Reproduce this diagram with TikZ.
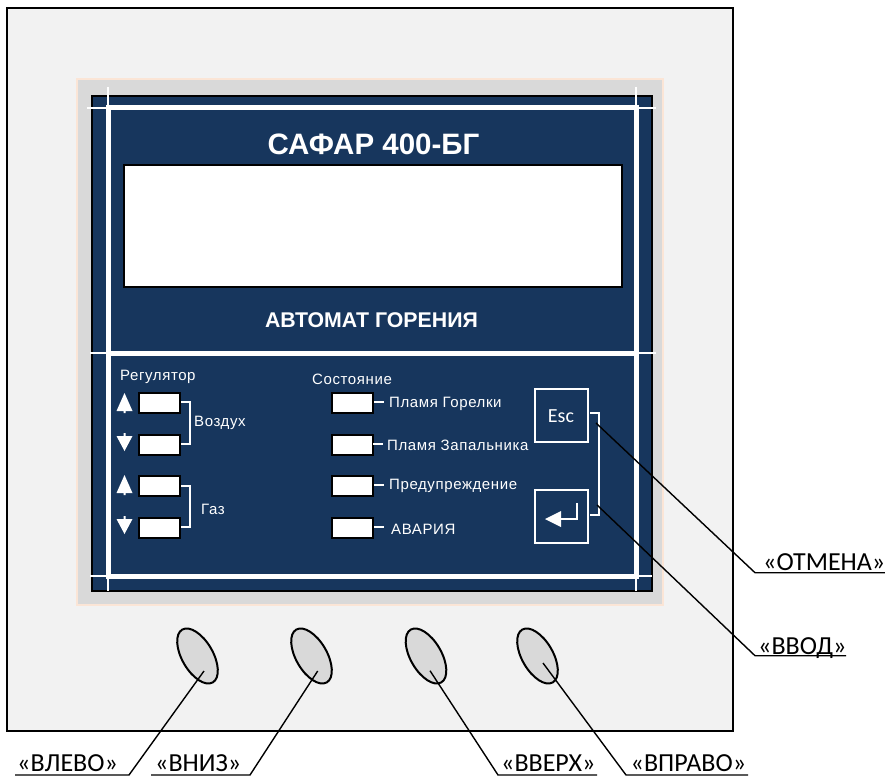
\documentclass[tikz,border=0pt]{standalone}
\usepackage{fontspec}
\setmainfont{Liberation Sans}
\newfontfamily\capfont{Carlito}
\newfontfamily\spacedfont[LetterSpace=4]{Liberation Sans}
\definecolor{panel}{HTML}{17365D}
\definecolor{face}{HTML}{F2F2F2}
\definecolor{bezel}{HTML}{D9D9D9}
\definecolor{bezeledge}{HTML}{FBE5D6}
\usetikzlibrary{shapes.geometric}
\tikzset{
 case/.style={draw=black,line width=2.4pt,fill=face},
 led/.style={draw=black,line width=2pt,fill=white,minimum width=41pt,minimum height=20pt,inner sep=0,anchor=north west},
 btn/.style={draw=white,line width=1.6pt,fill=panel,minimum width=53pt,minimum height=53pt,inner sep=0,anchor=north west},
 knob/.style={draw=black,line width=2pt,fill=bezel,ellipse,minimum width=31pt,minimum height=61pt,inner sep=0,rotate=30},
 wl/.style={white,line width=1.8pt},
 wt/.style={white,line width=5pt},
 lead/.style={black,line width=1.4pt},
 lbl/.style={white,font=\spacedfont\fontsize{15pt}{17pt}\selectfont,anchor=west,inner sep=0},
 capt/.style={font=\capfont\fontsize{26pt}{30pt}\selectfont,anchor=base west,inner sep=0,text=black},
 tick/.style={white,line width=1.7pt},
}
\begin{document}
\begin{tikzpicture}[x=1pt,y=-1pt]
\useasboundingbox (0,0) rectangle (885,778);
\fill[white] (0,0) rectangle (885,778);
\draw[case] (7,8) rectangle (733,731);
\draw[draw=bezeledge,line width=1.5pt,fill=bezel] (77,79) rectangle (663,605);
\draw[draw=black,line width=2pt,fill=panel] (92,96) rectangle (652,591);
\draw[wl] (87,108) -- (108,108);
\draw[wl] (108,87) -- (108,108);
\draw[wl] (636,108) -- (656,108);
\draw[wl] (636,87) -- (636,108);
\draw[wl] (90,353) -- (108,353);
\draw[wl] (636,353) -- (656,353);
\draw[wl] (90,576) -- (108,576);
\draw[wl] (636,576) -- (652,576);
\draw[wl] (108,576) -- (108,591);
\draw[wl] (636,576) -- (636,591);
\draw[wt] (108,108) -- (636.5,108) -- (636.5,576) -- (108,576) -- cycle;
\draw[wt] (108,353) -- (636.5,353);
\node[white,font=\bfseries\fontsize{29.5pt}{32pt}\selectfont,anchor=base] (title) at (373.5,155) {САФАР 400-БГ};
\node[draw=black,line width=2pt,fill=white,minimum width=498pt,minimum height=122pt,inner sep=0,anchor=north west] (screen) at (123,164) {};
\node[white,font=\bfseries\fontsize{21.3pt}{24pt}\selectfont,anchor=base] (sub) at (371.5,327) {АВТОМАТ ГОРЕНИЯ};
\node[lbl] (reg) at (120,377) {Регулятор};
\node[lbl] (sos) at (312,379) {Состояние};
\node[led] (a1) at (138,392) {};
\node[led] (a2) at (138,434) {};
\node[led] (a3) at (138,475) {};
\node[led] (a4) at (138,517) {};
\node[led] (b1) at (331,392) {};
\node[led] (b2) at (331,434) {};
\node[led] (b3) at (331,475) {};
\node[led] (b4) at (331,517) {};
\draw[tick] (181,402) -- (190,402) -- (190,444) -- (181,444);
\draw[tick] (181,486) -- (190,486) -- (190,527) -- (181,527);
\node[lbl] (air) at (194,423) {Воздух};
\node[lbl] (gas) at (201,509) {Газ};
\node[lbl] (s1) at (389,404) {Пламя Горелки};
\node[lbl] (s2) at (387,445) {Пламя Запальника};
\node[lbl] (s3) at (389,486) {Предупреждение};
\node[lbl] (s4) at (391,529) {АВАРИЯ};
\draw[tick] (374,402) -- (384,402);
\draw[tick] (373,444) -- (383,444);
\draw[tick] (374,485) -- (384,485);
\draw[tick] (374,527) -- (384,527);
\foreach \yy in {393,475}{
 \fill[white] (124.5,\yy) -- (132.5,\yy+18) -- (125.5,\yy+18) -- (125.5,\yy+20) -- (123.5,\yy+20) -- (123.5,\yy+18) -- (116.5,\yy+18) -- cycle;
}
\foreach \yy in {451,534}{
 \fill[white] (124.5,\yy) -- (132.5,\yy-15) -- (125.5,\yy-15) -- (125.5,\yy-18) -- (123.5,\yy-18) -- (123.5,\yy-15) -- (116.5,\yy-15) -- cycle;
}
\node[btn] (esc) at (534,388) {};
\node[white,font=\capfont\fontsize{20pt}{22pt}\selectfont] (esct) at (561,416) {Esc};
\node[btn] (ent) at (534,489) {};
\draw[white,line width=1.6pt] (577,503) -- (577,519) -- (556,519);
\fill[white] (545,519) -- (561,511) -- (561,527) -- cycle;
\draw[tick] (590,413) -- (599,413) -- (599,515) -- (590,515);
\node[knob] (k1) at (197.5,656) {};
\node[knob] (k2) at (311.5,656) {};
\node[knob] (k3) at (426,656) {};
\node[knob] (k4) at (537.5,656) {};
\coordinate (kp1) at (204,671);
\coordinate (kp2) at (317.7,671);
\coordinate (kp3) at (430,670.7);
\coordinate (kp4) at (543,663);
\coordinate (e1) at (129,775);
\coordinate (e2) at (250,775);
\coordinate (e3) at (498,775);
\coordinate (e4) at (626,775);
\coordinate (u1) at (15,775);
\coordinate (u2) at (151,775);
\coordinate (u3) at (597,775);
\coordinate (u4) at (748,775);
\draw[lead] (kp1) -- (e1) -- (u1);
\draw[lead] (kp2) -- (e2) -- (u2);
\draw[lead] (kp3) -- (e3) -- (u3);
\draw[lead] (kp4) -- (e4) -- (u4);
\node[capt] (l1) at (17,771.5) {«ВЛЕВО»};
\node[capt] (l2) at (155,771.5) {«ВНИЗ»};
\node[capt] (l3) at (501,771.5) {«ВВЕРХ»};
\node[capt] (l4) at (630.5,771.5) {«ВПРАВО»};
\coordinate (ep) at (596,423);
\coordinate (np) at (597,505);
\coordinate (eo) at (755,572.7);
\coordinate (no) at (755,655.7);
\coordinate (eu) at (885,572.7);
\coordinate (nu) at (846,655.7);
\draw[lead] (ep) -- (eo) -- (eu);
\draw[lead] (np) -- (no) -- (nu);
\node[capt] (l5) at (763,570.5) {«ОТМЕНА»};
\node[capt] (l6) at (758,654) {«ВВОД»};
\end{tikzpicture}
\end{document}
